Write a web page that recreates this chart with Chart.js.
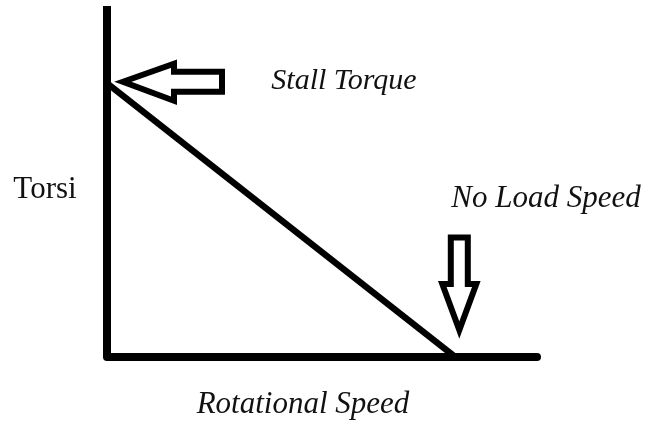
<!DOCTYPE html>
<html>
<head>
<meta charset="utf-8">
<script src="https://cdn.jsdelivr.net/npm/chart.js@4.4.1/dist/chart.umd.min.js"></script>
<style>
  html, body { margin: 0; padding: 0; background: #fff; }
  #wrap { width: 646px; height: 425px; }
</style>
</head>
<body>
<div id="wrap"><canvas id="torque"></canvas></div>
<script>
// torque / speed curve of a DC motor (arbitrary units)
var speedValues = [0, 81]
var torqueValues = [78, 0]
var axisMax = 100

var xAxisLabel = "Rotational Speed"
var yAxisLabel = "Torsi"
var stallLabel = "Stall Torque"
var noLoadLabel = "No Load Speed"

function pts(xs, ys) {
    return xs.map(function(x, i) { return {x: x, y: ys[i]} })
}

// arrows + labels drawn relative to the curve end points
var notesPlugin = {
    id: 'notes',
    afterDatasetsDraw: function(chart) {
        var ctx = chart.ctx
        var xs = chart.scales.x, ys = chart.scales.y
        var sx = xs.getPixelForValue(speedValues[0]), sy = ys.getPixelForValue(torqueValues[0])
        var nx = xs.getPixelForValue(speedValues[1]), ny = ys.getPixelForValue(torqueValues[1])

        ctx.save()
        ctx.strokeStyle = '#000'
        ctx.lineWidth = 6
        ctx.lineJoin = 'miter'

        // left pointing arrow at stall torque
        var tx = sx + 16, ty = sy - 1.5
        var left = [[0,0],[51,-18],[51,-10],[99,-10],[99,10],[51,10],[51,19]]
        ctx.beginPath()
        left.forEach(function(p, i) {
            if (i == 0) ctx.moveTo(tx + p[0], ty + p[1])
            else ctx.lineTo(tx + p[0], ty + p[1])
        })
        ctx.closePath()
        ctx.stroke()

        // down pointing arrow at no load speed
        var dx = nx + 4, dy = ny - 27
        var down = [[0,0],[-17,-46],[-8.5,-46],[-8.5,-92.5],[8.5,-92.5],[8.5,-46],[17,-46]]
        ctx.beginPath()
        down.forEach(function(p, i) {
            if (i == 0) ctx.moveTo(dx + p[0], dy + p[1])
            else ctx.lineTo(dx + p[0], dy + p[1])
        })
        ctx.closePath()
        ctx.stroke()

        ctx.fillStyle = '#111'
        ctx.textBaseline = 'alphabetic'
        ctx.textAlign = 'center'
        ctx.font = 'italic 30px "Liberation Serif", "DejaVu Serif", serif'
        ctx.fillText(stallLabel, 344, 89)
        ctx.font = 'italic 31px "Liberation Serif", "DejaVu Serif", serif'
        ctx.fillText(noLoadLabel, 546, 207)
        ctx.fillText(xAxisLabel, 303, 413)
        ctx.font = '31px "Liberation Serif", "DejaVu Serif", serif'
        ctx.fillText(yAxisLabel, 45, 198)
        ctx.restore()
    }
}

var chart = new Chart(document.getElementById('torque'), {
    type: 'scatter',
    data: {
        datasets: [
            {
                label: 'y axis',
                data: pts([0, 0], [0, axisMax]),
                showLine: true,
                borderColor: '#000',
                borderWidth: 8,
                borderCapStyle: 'butt',
                pointRadius: 0
            },
            {
                label: 'x axis',
                data: pts([0, axisMax], [0, 0]),
                showLine: true,
                borderColor: '#000',
                borderWidth: 8,
                borderCapStyle: 'round',
                pointRadius: 0
            },
            {
                label: 'torque',
                data: pts(speedValues, torqueValues),
                showLine: true,
                borderColor: '#000',
                borderWidth: 6.5,
                pointRadius: 0
            }
        ]
    },
    options: {
        responsive: true,
        maintainAspectRatio: false,
        animation: false,
        clip: false,
        layout: { padding: { left: 107, right: 109, top: 6, bottom: 68 } },
        scales: {
            x: { type: 'linear', min: 0, max: axisMax, display: false },
            y: { type: 'linear', min: 0, max: axisMax, display: false }
        },
        plugins: {
            legend: { display: false },
            tooltip: { enabled: false }
        }
    },
    plugins: [notesPlugin]
})
</script>
</body>
</html>
